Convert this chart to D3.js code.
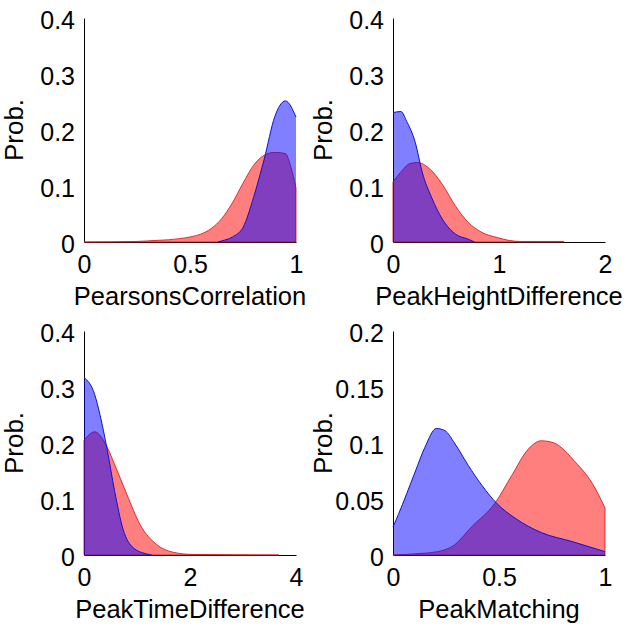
<!DOCTYPE html>
<html><head><meta charset="utf-8">
<script src="https://cdn.jsdelivr.net/npm/d3@7"></script>
<style>
body{margin:0;background:#fff}
svg{display:block}
text{font-family:"Liberation Sans",Arial,sans-serif;fill:#000}
</style>
</head><body><svg id="c" width="630" height="631"></svg>
<script>
// Panel 1: PearsonsCorrelation
const pcRedX  = [0, 0.25, 0.3, 0.35, 0.4, 0.45, 0.5, 0.55, 0.6, 0.65, 0.7, 0.75, 0.8, 0.85, 0.9, 0.95, 0.975, 1];
const pcRedY  = [0, 0.001, 0.002, 0.003, 0.004, 0.006, 0.009, 0.014, 0.024, 0.042, 0.07, 0.105, 0.137, 0.155, 0.160, 0.158, 0.135, 0.097];
const pcBlueX = [0.63, 0.65, 0.7, 0.75, 0.8, 0.85, 0.9, 0.95, 1];
const pcBlueY = [0, 0.002, 0.009, 0.026, 0.08, 0.148, 0.224, 0.252, 0.223];
// Panel 2: PeakHeightDifference
const phRedX  = [0, 0.07, 0.16, 0.23, 0.35, 0.465, 0.59, 0.71, 0.84, 0.985, 1.09, 1.2, 1.61];
const phRedY  = [0.107, 0.124, 0.140, 0.142, 0.130, 0.103, 0.064, 0.035, 0.017, 0.008, 0.003, 0.001, 0.001];
const phBlueX = [0, 0.075, 0.13, 0.21, 0.275, 0.37, 0.465, 0.59, 0.71, 0.77];
const phBlueY = [0.231, 0.233, 0.215, 0.178, 0.125, 0.077, 0.041, 0.014, 0.005, 0.0];
// Panel 3: PeakTimeDifference
const ptRedX  = [0, 0.2, 0.43, 0.58, 0.81, 1.06, 1.38, 1.68, 2.05, 3.68];
const ptRedY  = [0.205, 0.22, 0.194, 0.161, 0.108, 0.054, 0.018, 0.005, 0.001, 0.0];
const ptBlueX = [0, 0.2, 0.3, 0.43, 0.58, 0.74, 0.93, 1.18, 1.28];
const ptBlueY = [0.317, 0.287, 0.251, 0.192, 0.113, 0.045, 0.013, 0.002, 0];
// Panel 4: PeakMatching
const pmRedX  = [0, 0.1, 0.21, 0.29, 0.37, 0.48, 0.56, 0.64, 0.70, 0.76, 0.86, 0.94, 1.0];
const pmRedY  = [0, 0.001, 0.003, 0.009, 0.025, 0.046, 0.071, 0.095, 0.102, 0.100, 0.083, 0.064, 0.042];
const pmBlueX = [0, 0.025, 0.104, 0.15, 0.205, 0.245, 0.29, 0.355, 0.42, 0.49, 0.575, 0.70, 0.845, 1.0];
const pmBlueY = [0.025, 0.036, 0.074, 0.096, 0.113, 0.111, 0.100, 0.080, 0.062, 0.046, 0.033, 0.020, 0.012, 0.003];

const xLabels = ["PearsonsCorrelation", "PeakHeightDifference", "PeakTimeDifference", "PeakMatching"];
const yLabel = "Prob.";
const xDomains = [[0,1],[0,2],[0,4],[0,1]];
const yDomains = [[0,0.4],[0,0.4],[0,0.4],[0,0.2]];
const xTicks = [[0,0.5,1],[0,1,2],[0,2,4],[0,0.5,1]];
const yTicks = [[0,0.1,0.2,0.3,0.4],[0,0.1,0.2,0.3,0.4],[0,0.1,0.2,0.3,0.4],[0,0.05,0.1,0.15,0.2]];
const redSeries = [[pcRedX,pcRedY],[phRedX,phRedY],[ptRedX,ptRedY],[pmRedX,pmRedY]];
const blueSeries = [[pcBlueX,pcBlueY],[phBlueX,phBlueY],[ptBlueX,ptBlueY],[pmBlueX,pmBlueY]];

const svg = d3.select("#c");
svg.append("rect").attr("width",630).attr("height",631).attr("fill","#fff");

const lefts = [84, 393], tops = [18, 331];
const W = 212, H = 224;

for (let i = 0; i < 4; i++) {
  const L = lefts[i % 2], T = tops[Math.floor(i / 2)];
  const x = d3.scaleLinear().domain(xDomains[i]).range([L, L + W]);
  const y = d3.scaleLinear().domain(yDomains[i]).range([T + H, T]);
  const g = svg.append("g");

  const xa = g.append("g").attr("transform", `translate(0,${T + H})`)
    .call(d3.axisBottom(x).tickValues(xTicks[i]).tickFormat(d => String(d)).tickSize(0).tickPadding(13));
  const ya = g.append("g").attr("transform", `translate(${L},0)`)
    .call(d3.axisLeft(y).tickValues(yTicks[i]).tickFormat(d => String(d)).tickSize(0).tickPadding(9));
  [xa, ya].forEach(a => {
    a.select(".domain").attr("stroke", "#000").attr("stroke-width", 1);
    a.selectAll("text").attr("font-size", 25).attr("font-family", '"Liberation Sans",Arial,sans-serif').attr("fill", "#000");
  });
  ya.selectAll("text").attr("dy", "0.42em");

  const mk = s => s[0].map((v, k) => [v, s[1][k]]);
  const red = mk(redSeries[i]), blue = mk(blueSeries[i]);
  const area = d3.area().x(d => x(d[0])).y0(y(0)).y1(d => y(d[1])).curve(d3.curveMonotoneX);
  const line = d3.line().x(d => x(d[0])).y(d => y(d[1])).curve(d3.curveMonotoneX);

  g.append("path").attr("d", area(red)).attr("fill", "#ff0000").attr("fill-opacity", 0.5)
    .attr("stroke", "#d01010").attr("stroke-opacity", 0.8).attr("stroke-width", 1);
  g.append("path").attr("d", area(blue)).attr("fill", "#0000ff").attr("fill-opacity", 0.5).attr("stroke", "none");
  g.append("path").attr("d", line(blue)).attr("fill", "none").attr("stroke", "#1010d0").attr("stroke-width", 1);

  g.append("text").attr("x", L + W / 2).attr("y", T + H + 63).attr("text-anchor", "middle")
    .attr("font-size", 25.5).text(xLabels[i]);
  g.append("text").attr("transform", `translate(${L - 61},${T + H / 2}) rotate(-90)`)
    .attr("text-anchor", "middle").attr("font-size", 26).text(yLabel);
}
</script></body></html>
